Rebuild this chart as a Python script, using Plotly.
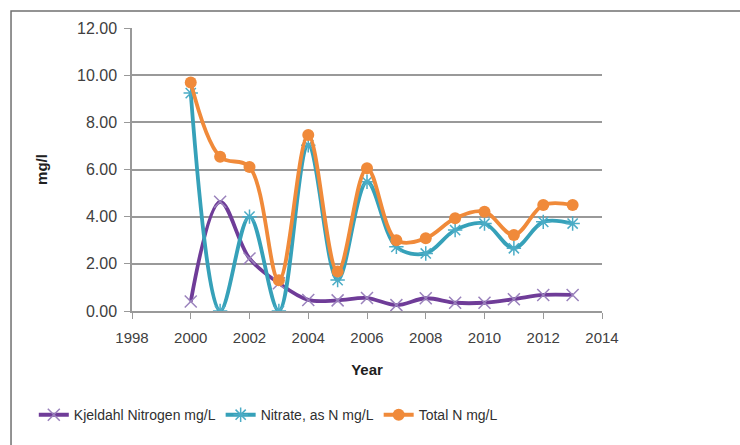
import plotly.graph_objects as go

years = list(range(2000, 2014))
kjeldahl = [0.40, 4.63, 2.23, 1.18, 0.47, 0.45, 0.55, 0.25, 0.54, 0.35, 0.35, 0.50, 0.68, 0.68]
nitrate = [9.24, 0.00, 4.00, 0.00, 7.03, 1.31, 5.48, 2.72, 2.44, 3.43, 3.71, 2.66, 3.78, 3.71]
total_n = [9.69, 6.54, 6.11, 1.30, 7.46, 1.67, 6.05, 3.00, 3.08, 3.93, 4.21, 3.22, 4.49, 4.49]

series = [
    ("Kjeldahl Nitrogen mg/L", kjeldahl, "#6F3C98", dict(symbol="x-thin", size=12, line=dict(width=1.5, color="#9A82BC"))),
    ("Nitrate, as N mg/L", nitrate, "#36A1B9", dict(symbol="asterisk", size=12, line=dict(width=1.5, color="#4BACC6"))),
    ("Total N mg/L", total_n, "#F08A3A", dict(symbol="circle", size=12, color="#F08A3A")),
]

fig = go.Figure()
for name, vals, col, mk in series:
    fig.add_trace(go.Scatter(
        x=years, y=vals, name=name, mode="lines+markers",
        line=dict(color=col, width=3.8, shape="spline", smoothing=1),
        marker=mk,
    ))

font = "Liberation Sans"
fig.update_layout(
    width=740, height=445,
    margin=dict(l=132, r=138, t=28, b=134),
    plot_bgcolor="white", paper_bgcolor="white",
    font=dict(family=font, size=15, color="#404040"),
    showlegend=True,
    legend=dict(orientation="h", x=0.29, xanchor="center", y=-0.368, yanchor="middle",
                font=dict(size=14, color="#303030"), traceorder="normal"),
    shapes=[dict(type="rect", xref="paper", yref="paper", x0=-0.2574, x1=1.32, y0=-0.5, y1=1.06,
                 line=dict(color="#707070", width=1.5), layer="below")],
)
fig.update_xaxes(
    range=[1998, 2014], dtick=2, tick0=1998, ticks="outside", ticklen=6, tickcolor="#999999",
    showline=True, linecolor="#999999", linewidth=1.5, showgrid=False, zeroline=False,
    tickfont=dict(size=15), ticklabelstandoff=6,
    title=dict(text="<b>Year</b>", font=dict(size=15, color="#202020"), standoff=20),
)
fig.update_yaxes(
    range=[0, 12], dtick=2, tickformat=".2f", ticks="outside", ticklen=6, tickcolor="#999999",
    showline=True, linecolor="#999999", linewidth=1.5, showgrid=True, gridcolor="#999999",
    gridwidth=1.5, zeroline=False, ticklabelstandoff=4,
    tickfont=dict(size=16),
    title=dict(text="<b>mg/l</b>", font=dict(size=15, color="#202020"), standoff=26),
)

fig.write_html("out.html", config={"displayModeBar": False},
               post_script="document.body.style.margin='0';")
